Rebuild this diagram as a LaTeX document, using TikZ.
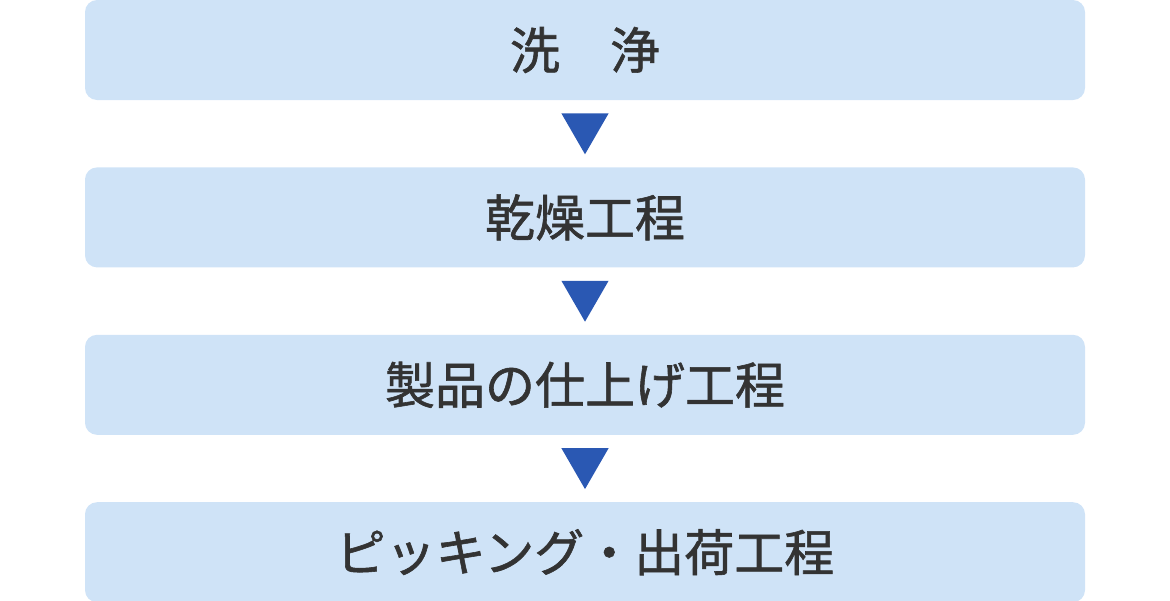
\documentclass[tikz,border=0pt]{standalone}
\usepackage{fontspec}
\newfontfamily\jpfont[FakeBold=1.2]{Noto Sans CJK JP}
\usepackage{tikz}
\usetikzlibrary{positioning,shapes.geometric}
\definecolor{PaleBlue}{HTML}{CFE3F7}
\definecolor{Blue}{HTML}{2A58B3}
\definecolor{Ink}{HTML}{333333}
\tikzset{
  stepbox/.style={fill=PaleBlue,rounded corners=12pt,minimum width=1000pt,minimum height=100pt,
    inner sep=0pt,text=Ink,font=\jpfont\fontsize{50}{60}\selectfont},
  downtri/.style={regular polygon,regular polygon sides=3,shape border rotate=180,
    fill=Blue,inner sep=0pt,minimum size=54.5pt}
}
\begin{document}
\begin{tikzpicture}[node distance=67pt]
  \useasboundingbox (0,0) rectangle (1170pt,-600pt);
  \node[stepbox] (wash) at (585pt,-50pt) {洗　浄};
  \node[stepbox,below=of wash] (dry) {乾燥工程};
  \node[stepbox,below=of dry] (finish) {製品の仕上げ工程};
  \node[stepbox,below=of finish] (ship) {ピッキング・出荷工程};
  % arrows between the steps
  \node[downtri,below=13pt of wash] (t1) {};
  \node[downtri,below=13pt of dry] (t2) {};
  \node[downtri,below=13pt of finish] (t3) {};
\end{tikzpicture}
\end{document}
